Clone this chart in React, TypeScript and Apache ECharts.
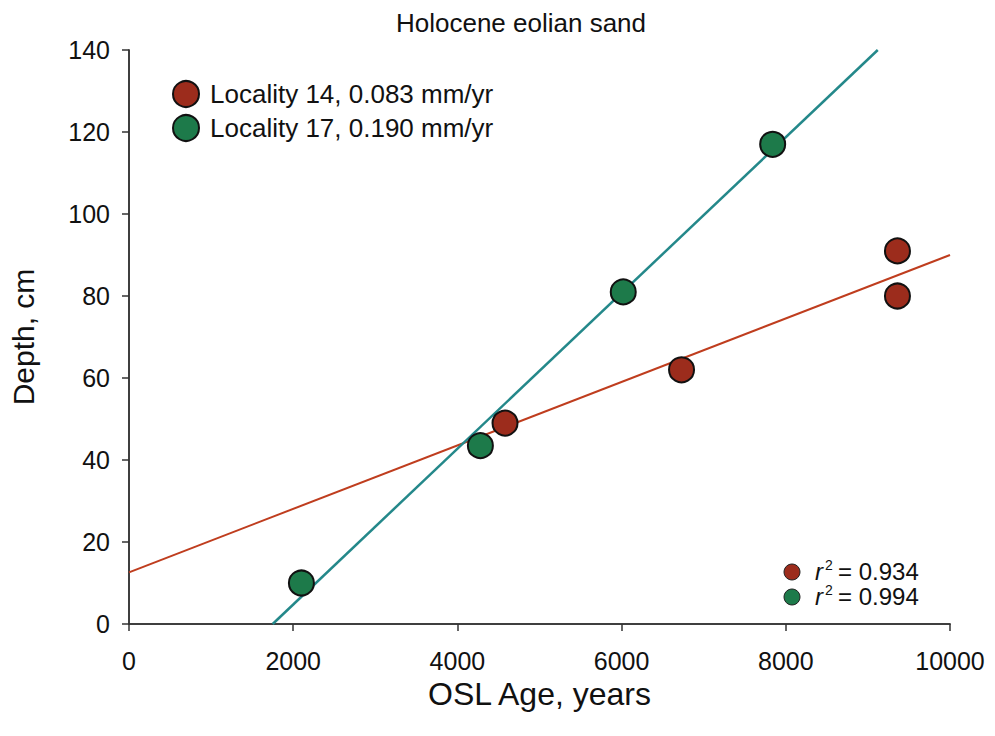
import React, { useEffect, useRef } from "react";
import * as echarts from "echarts";

const loc14Age = [4580, 6730, 9360, 9360];
const loc14Depth = [49, 62, 91, 80];
const loc17Age = [2100, 4280, 6020, 7840];
const loc17Depth = [10, 43.5, 81, 117];
// regression line endpoints [age, depth]
const fit14 = [[0, 12.6], [10000, 90]];
const fit17 = [[1750, 0], [9120, 140]];
const xTicks = [0, 2000, 4000, 6000, 8000, 10000];
const legendNames = ["Locality 14, 0.083 mm/yr", "Locality 17, 0.190 mm/yr"];
const r2Values = ["0.934", "0.994"];

const RED = "#9c2c1c";
const GREEN = "#1d7a4a";
const RED_LINE = "#bf3d1e";
const TEAL_LINE = "#24888a";
const FONT = "Liberation Sans, Arial, sans-serif";

export default function App() {
  const ref = useRef<HTMLDivElement>(null);
  useEffect(() => {
    const chart = echarts.init(ref.current!, null, { renderer: "svg" });
    const axisLine = { show: true, lineStyle: { color: "#333", width: 1.5 } };
    chart.setOption({
      animation: false,
      backgroundColor: "#fff",
      textStyle: { fontFamily: FONT },
      title: {
        text: "Holocene eolian sand",
        left: 516,
        textAlign: "center",
        top: 5,
        textStyle: { fontFamily: FONT, fontSize: 26, fontWeight: "normal", color: "#111" },
      },
      grid: { left: 129, top: 50, right: 45, bottom: 112 },
      legend: {
        data: legendNames.map((n) => ({ name: n })),
        orient: "vertical",
        left: 167,
        top: 75,
        itemWidth: 26,
        itemHeight: 26,
        itemGap: 6,
        icon: "circle",
        textStyle: { fontFamily: FONT, fontSize: 26, color: "#111", padding: [0, 0, 0, 6] },
      },
      xAxis: [
        {
          type: "value",
          min: 0,
          max: 10000,
          interval: 2000,
          axisLine,
          axisTick: { show: true, inside: false, length: 7, lineStyle: { color: "#333", width: 1.5 } },
          axisLabel: {
            fontFamily: FONT,
            fontSize: 25,
            color: "#111",
            margin: 24,
            formatter: (v: number) => (xTicks.includes(v) ? String(v) : ""),
          },
          splitLine: { show: false },
          name: "OSL Age, years",
          nameLocation: "middle",
          nameGap: 50,
          nameTextStyle: { fontFamily: FONT, fontSize: 32, color: "#111" },
        },
        {
          type: "value",
          position: "top",
          min: 0,
          max: 10000,
          axisLine,
          axisTick: { show: false },
          axisLabel: { show: false },
          splitLine: { show: false },
        },
      ],
      yAxis: [
        {
          type: "value",
          min: 0,
          max: 140,
          interval: 20,
          axisLine,
          axisTick: { show: true, inside: false, length: 7, lineStyle: { color: "#333", width: 1.5 } },
          axisLabel: { fontFamily: FONT, fontSize: 25, color: "#111", margin: 19 },
          splitLine: { show: false },
          name: "Depth, cm",
          nameLocation: "middle",
          nameGap: 91,
          nameTextStyle: { fontFamily: FONT, fontSize: 30, color: "#111" },
        },
        {
          type: "value",
          position: "right",
          min: 0,
          max: 140,
          axisLine,
          axisTick: { show: false },
          axisLabel: { show: false },
          splitLine: { show: false },
        },
      ],
      series: [
        {
          name: "fit14",
          type: "line",
          data: fit14,
          symbol: "none",
          lineStyle: { color: RED_LINE, width: 2 },
          z: 1,
          silent: true,
        },
        {
          name: "fit17",
          type: "line",
          data: fit17,
          symbol: "none",
          lineStyle: { color: TEAL_LINE, width: 2.5 },
          z: 1,
          silent: true,
        },
        {
          name: legendNames[0],
          type: "scatter",
          data: loc14Age.map((a, i) => [a, loc14Depth[i]]),
          symbolSize: 25,
          itemStyle: { color: RED, borderColor: "#111", borderWidth: 2, opacity: 1 },
          z: 3,
        },
        {
          name: legendNames[1],
          type: "scatter",
          data: loc17Age.map((a, i) => [a, loc17Depth[i]]),
          symbolSize: 25,
          itemStyle: { color: GREEN, borderColor: "#111", borderWidth: 2, opacity: 1 },
          z: 3,
        },
      ],
      graphic: r2Values.flatMap((v, i) => {
        const cy = 571 + i * 25;
        return [
          {
            type: "circle",
            shape: { cx: 792, cy: cy + 1, r: 8 },
            style: { fill: i === 0 ? RED : GREEN, stroke: "#222", lineWidth: 1 },
          },
          {
            type: "text",
            x: 815,
            y: cy,
            style: {
              text: "r",
              fontFamily: FONT,
              fontSize: 24,
              fontStyle: "italic",
              fill: "#111",
              verticalAlign: "middle",
            },
          },
          {
            type: "text",
            x: 825,
            y: cy - 6,
            style: {
              text: "2",
              fontFamily: FONT,
              fontSize: 14,
              fill: "#111",
              verticalAlign: "middle",
            },
          },
          {
            type: "text",
            x: 838,
            y: cy,
            style: {
              text: `= ${v}`,
              fontFamily: FONT,
              fontSize: 24,
              fill: "#111",
              verticalAlign: "middle",
            },
          },
        ];
      }),
    });
    return () => chart.dispose();
  }, []);
  return <div ref={ref} style={{ width: 995, height: 736, margin: -8 }} />;
}
